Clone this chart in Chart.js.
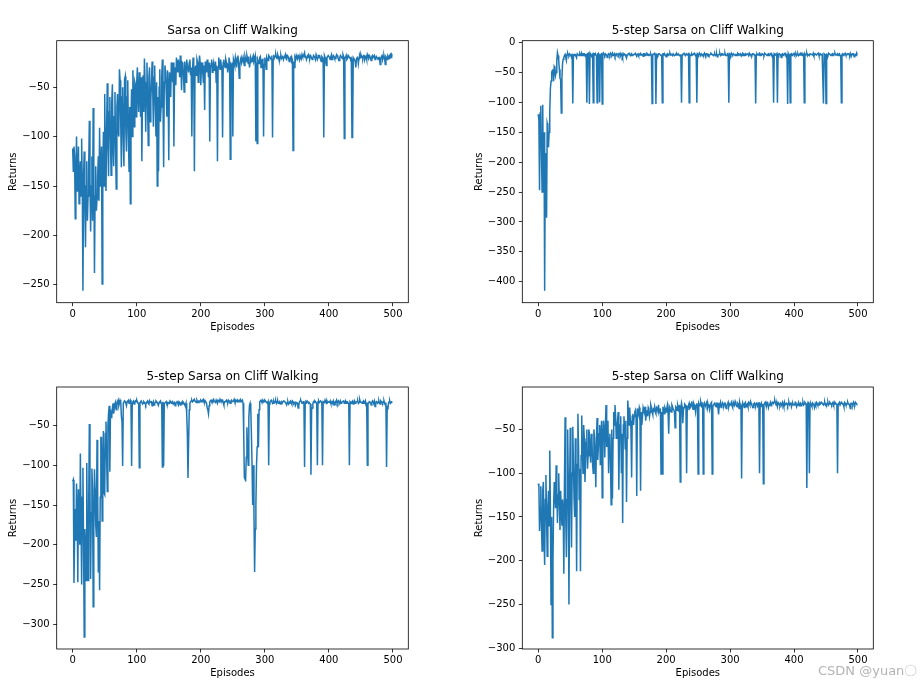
<!DOCTYPE html>
<html>
<head>
<meta charset="utf-8">
<script src="https://cdn.jsdelivr.net/npm/chart.js@4.4.0/dist/chart.umd.min.js"></script>
<style>
  body { margin: 0; background: #fff; width: 920px; height: 687px; position: relative; overflow: hidden; }
  canvas { position: absolute; }
  #mark { position: absolute; left: 818px; top: 662px; font: 13px "DejaVu Sans", sans-serif; color: #b4b4b4; white-space: nowrap; }
</style>
</head>
<body>
<canvas id="c1" width="420" height="320" style="left:0;top:20px"></canvas>
<canvas id="c2" width="420" height="320" style="left:470px;top:20px"></canvas>
<canvas id="c3" width="420" height="320" style="left:0;top:365px"></canvas>
<canvas id="c4" width="420" height="320" style="left:470px;top:365px"></canvas>
<div id="mark">CSDN @yuan〇</div>
<script>
// returns, one value per episode (50 per line)
const EPISODE_STEP = 1;

const sarsaReturns = [
  -112,-135,-110,-120,-183,-140,-100,-155,-137,-110,-168,-140,-125,-160,-102,-150,-256,-140,-115,-170,-212,-150,-125,-185,-160,-130,-84,-145,-196,-150,-120,-185,-71,-130,-238,-160,-130,-175,-163,-140,-120,-165,-91,-150,-140,-110,-249,-135,-95,-150,
  -57,-120,-155,-90,-46,-110,-140,-75,-60,-100,-139,-65,-47,-110,-130,-80,-55,-115,-153,-70,-57,-95,-100,-32,-43,-85,-131,-60,-50,-105,-130,-42,-39,-95,-115,-60,-43,-100,-135,-70,-168,-80,-52,-100,-33,-60,-90,-45,-48,-80,
  -45,-30,-60,-75,-35,-50,-80,-40,-125,-55,-38,-75,-21,-45,-95,-50,-25,-70,-109,-40,-30,-85,-64,-45,-24,-55,-90,-40,-28,-70,-100,-45,-150,-60,-135,-50,-32,-85,-70,-40,-22,-65,-131,-45,-28,-35,-55,-80,-33,-50,
  -124,-35,-40,-60,-25,-30,-45,-25,-110,-40,-30,-48,-20,-28,-35,-22,-28,-40,-18,-30,-53,-25,-26,-38,-55,-24,-32,-45,-22,-28,-30,-35,-25,-22,-38,-30,-100,-35,-20,-28,-135,-30,-28,-38,-22,-25,-45,-30,-18,-25,
  -48,-30,-25,-35,-45,-28,-73,-24,-30,-35,-22,-28,-40,-25,-105,-30,-28,-22,-35,-28,-25,-33,-30,-24,-45,-28,-125,-30,-20,-26,-32,-22,-28,-30,-101,-25,-22,-28,-30,-22,-25,-26,-35,-30,-20,-24,-123,-28,-30,-25,
  -100,-22,-25,-28,-20,-24,-30,-20,-18,-26,-41,-28,-22,-20,-25,-23,-20,-25,-28,-19,-22,-24,-18,-21,-26,-19,-30,-25,-20,-22,-24,-20,-18,-24,-22,-19,-105,-25,-107,-22,-24,-26,-20,-19,-30,-24,-22,-21,-100,-27,
  -20,-25,-32,-20,-22,-23,-18,-19,-20,-21,-22,-18,-101,-22,-19,-20,-18,-17,-20,-21,-17,-19,-22,-23,-19,-18,-21,-20,-18,-22,-20,-19,-17,-21,-22,-18,-19,-20,-24,-22,-20,-19,-26,-21,-114,-24,-30,-20,-22,-18,
  -20,-21,-18,-19,-22,-18,-20,-21,-17,-19,-19,-17,-15,-20,-18,-22,-20,-18,-17,-20,-21,-18,-19,-21,-22,-20,-18,-19,-20,-22,-17,-19,-22,-20,-18,-18,-20,-21,-24,-19,-20,-22,-101,-18,-20,-24,-28,-20,-19,-18,
  -18,-20,-22,-19,-17,-22,-20,-18,-19,-21,-21,-19,-17,-18,-20,-22,-23,-20,-18,-19,-20,-21,-17,-19,-102,-20,-20,-18,-22,-21,-18,-19,-20,-20,-22,-21,-101,-101,-20,-20,-22,-24,-30,-22,-20,-19,-26,-21,-18,-20,
  -17,-19,-20,-21,-18,-18,-22,-20,-19,-22,-17,-19,-21,-18,-19,-21,-23,-19,-18,-20,-20,-18,-22,-21,-19,-19,-21,-22,-20,-20,-27,-23,-19,-18,-22,-20,-18,-21,-27,-19,-20,-22,-18,-19,-21,-18,-17,-20,-17,-18
];

const nstepReturnsA = [
  -120,-130,-247,-118,-106,-180,-250,-104,-250,-150,-415,-200,-185,-293,-135,-140,-175,-150,-115,-77,-65,-50,-47,-45,-65,-40,-42,-55,-50,-30,-17,-22,-30,-45,-60,-62,-118,-60,-35,-28,-25,-22,-20,-25,-30,-20,-18,-21,-22,-19,
  -20,-22,-25,-19,-102,-21,-22,-20,-20,-23,-25,-19,-19,-21,-22,-18,-20,-22,-18,-20,-22,-19,-19,-21,-20,-20,-101,-19,-18,-22,-103,-18,-20,-21,-22,-20,-101,-19,-19,-21,-20,-22,-101,-19,-18,-20,-100,-21,-20,-19,
  -103,-21,-18,-20,-22,-19,-20,-22,-25,-21,-19,-20,-22,-18,-20,-21,-18,-22,-21,-19,-23,-20,-19,-21,-20,-19,-22,-20,-18,-22,-21,-19,-24,-21,-19,-20,-20,-23,-26,-21,-20,-19,-18,-20,-22,-21,-19,-22,-21,-20,
  -20,-19,-18,-21,-22,-20,-19,-22,-21,-19,-18,-21,-20,-20,-23,-19,-19,-22,-20,-21,-18,-19,-22,-20,-20,-21,-19,-22,-102,-20,-20,-19,-18,-21,-103,-20,-21,-22,-19,-19,-20,-21,-22,-20,-101,-19,-19,-21,-20,-22,
  -24,-20,-19,-22,-21,-19,-18,-21,-20,-20,-22,-19,-19,-22,-21,-20,-18,-21,-20,-19,-19,-22,-21,-20,-101,-21,-20,-19,-18,-20,-22,-22,-19,-21,-20,-19,-101,-20,-21,-22,-19,-21,-20,-19,-18,-20,-22,-21,-101,-19,
  -20,-21,-18,-20,-21,-19,-19,-22,-20,-21,-18,-20,-22,-19,-19,-21,-20,-22,-21,-20,-18,-19,-20,-21,-22,-20,-19,-22,-21,-19,-24,-21,-20,-20,-18,-22,-21,-19,-19,-21,-20,-20,-18,-22,-22,-21,-19,-20,-101,-19,
  -20,-22,-18,-20,-21,-19,-19,-21,-22,-20,-20,-22,-18,-19,-21,-20,-19,-21,-20,-22,-18,-19,-22,-20,-19,-21,-21,-19,-20,-22,-18,-20,-20,-21,-22,-19,-19,-20,-20,-22,-102,-20,-19,-21,-21,-19,-18,-22,-20,-21,
  -19,-20,-21,-22,-18,-19,-20,-21,-22,-20,-19,-22,-20,-19,-18,-21,-21,-20,-101,-19,-20,-21,-19,-22,-101,-20,-22,-19,-20,-21,-25,-20,-19,-22,-21,-19,-18,-21,-20,-20,-103,-19,-22,-21,-101,-20,-19,-22,-21,-19,
  -18,-21,-20,-19,-22,-20,-19,-22,-21,-19,-18,-21,-20,-22,-19,-20,-101,-19,-21,-20,-18,-22,-20,-21,-22,-19,-19,-20,-20,-21,-18,-22,-21,-19,-19,-21,-20,-20,-18,-22,-22,-19,-19,-21,-20,-20,-102,-19,-19,-21,
  -102,-20,-21,-22,-18,-19,-20,-21,-22,-20,-19,-22,-20,-19,-18,-21,-21,-20,-19,-22,-20,-19,-22,-21,-101,-20,-19,-22,-20,-19,-18,-21,-21,-20,-19,-19,-20,-22,-18,-21,-22,-20,-19,-19,-24,-21,-20,-22,-18,-20
];

const nstepReturnsB = [
  -120,-118,-248,-190,-155,-195,-123,-160,-247,-130,-160,-200,-85,-170,-250,-140,-103,-200,-316,-180,-195,-245,-97,-200,-245,-150,-48,-130,-243,-160,-104,-130,-278,-180,-105,-130,-175,-190,-68,-130,-234,-170,-257,-140,-65,-65,-170,-100,-57,-135,
  -137,-60,-45,-90,-133,-50,-35,-25,-108,-30,-40,-38,-28,-22,-35,-28,-22,-20,-30,-25,-20,-18,-25,-22,-18,-20,-38,-45,-101,-22,-22,-19,-20,-22,-25,-20,-19,-18,-22,-21,-18,-20,-101,-22,-20,-19,-23,-21,-19,-20,
  -18,-20,-22,-21,-103,-22,-20,-19,-19,-23,-22,-20,-21,-22,-24,-21,-20,-19,-22,-23,-19,-21,-21,-20,-25,-22,-20,-24,-22,-21,-19,-20,-21,-23,-24,-21,-20,-19,-22,-21,-102,-20,-101,-22,-22,-21,-20,-23,-24,-21,
  -21,-22,-19,-20,-22,-21,-20,-23,-23,-21,-25,-22,-21,-20,-22,-24,-20,-21,-24,-22,-21,-23,-20,-21,-22,-24,-25,-22,-35,-60,-116,-70,-30,-22,-20,-19,-18,-20,-19,-18,-17,-19,-20,-21,-18,-20,-21,-19,-19,-20,
  -18,-19,-20,-18,-17,-20,-21,-19,-19,-22,-28,-30,-35,-25,-20,-19,-18,-20,-21,-18,-17,-19,-20,-21,-18,-20,-22,-18,-19,-20,-17,-19,-20,-18,-18,-21,-24,-20,-20,-19,-18,-20,-21,-18,-19,-21,-22,-19,-18,-20,
  -20,-19,-17,-20,-21,-18,-19,-20,-18,-19,-20,-18,-17,-20,-19,-18,-22,-60,-115,-117,-118,-90,-52,-80,-100,-40,-25,-22,-28,-60,-100,-150,-100,-160,-234,-180,-150,-100,-77,-35,-77,-30,-20,-19,-18,-20,-21,-18,-19,-20,
  -18,-19,-20,-21,-22,-20,-100,-23,-20,-19,-18,-20,-21,-22,-19,-21,-20,-19,-22,-20,-19,-22,-21,-20,-23,-21,-20,-22,-22,-19,-19,-20,-21,-22,-24,-21,-20,-23,-22,-20,-19,-21,-23,-19,-20,-22,-21,-20,-24,-21,
  -21,-22,-28,-24,-20,-19,-18,-20,-22,-21,-20,-19,-102,-22,-20,-21,-19,-20,-22,-21,-21,-23,-112,-30,-28,-22,-20,-21,-19,-20,-21,-22,-100,-20,-19,-21,-21,-19,-20,-22,-100,-20,-20,-21,-18,-20,-22,-19,-21,-20,
  -20,-21,-19,-22,-22,-20,-21,-19,-24,-21,-20,-22,-18,-20,-22,-19,-20,-21,-19,-22,-21,-20,-20,-19,-22,-21,-19,-22,-20,-20,-22,-21,-100,-20,-21,-22,-20,-19,-23,-21,-19,-22,-21,-20,-20,-19,-22,-21,-17,-20,
  -20,-21,-22,-20,-19,-22,-21,-19,-25,-21,-100,-22,-22,-20,-20,-21,-24,-22,-19,-20,-21,-19,-26,-22,-20,-21,-22,-20,-19,-22,-23,-19,-20,-21,-22,-20,-19,-22,-24,-21,-102,-25,-30,-22,-20,-19,-22,-21,-20,-20
];

const nstepReturnsC = [
  -112,-115,-166,-140,-115,-160,-189,-120,-110,-170,-205,-130,-102,-150,-195,-140,-120,-160,-74,-140,-250,-150,-288,-200,-140,-110,-125,-140,-91,-120,-157,-125,-100,-135,-165,-120,-140,-160,-130,-145,-215,-110,-36,-150,-196,-130,-50,-110,-250,-120,
  -48,-120,-185,-100,-47,-90,-130,-150,-60,-110,-212,-90,-32,-70,-130,-95,-212,-80,-34,-75,-100,-45,-60,-110,-85,-65,-50,-95,-80,-50,-55,-75,-88,-55,-62,-90,-100,-50,-60,-80,-116,-60,-37,-85,-70,-55,-45,-90,-60,-40,
  -128,-60,-40,-50,-82,-45,-22,-70,-66,-40,-100,-60,-55,-90,-136,-50,-129,-60,-30,-45,-22,-35,-60,-50,-40,-30,-119,-60,-45,-35,-100,-55,-157,-45,-35,-50,-72,-40,-133,-60,-17,-30,-45,-25,-40,-50,-105,-35,-32,-45,
  -35,-30,-28,-38,-126,-26,-30,-33,-25,-28,-120,-30,-45,-35,-25,-28,-30,-24,-40,-32,-28,-35,-25,-27,-35,-30,-22,-25,-30,-33,-27,-28,-24,-30,-32,-25,-26,-29,-22,-31,-30,-26,-101,-30,-101,-24,-28,-32,-25,-27,
  -30,-26,-22,-30,-55,-24,-26,-29,-30,-22,-24,-27,-28,-30,-48,-24,-25,-28,-22,-25,-30,-22,-110,-26,-20,-24,-43,-28,-25,-21,-22,-26,-100,-23,-28,-22,-20,-26,-25,-21,-18,-24,-27,-20,-22,-25,-30,-22,-20,-24,
  -101,-20,-22,-23,-18,-21,-25,-19,-101,-24,-20,-22,-24,-20,-18,-25,-22,-21,-27,-23,-20,-19,-101,-24,-22,-21,-19,-23,-24,-20,-20,-25,-33,-21,-22,-19,-25,-23,-20,-22,-23,-20,-19,-24,-26,-22,-21,-19,-24,-21,
  -22,-21,-19,-23,-25,-19,-21,-22,-18,-20,-23,-24,-20,-21,-26,-19,-22,-23,-106,-21,-20,-22,-25,-20,-19,-24,-22,-21,-24,-19,-20,-22,-18,-20,-22,-24,-25,-21,-20,-22,-23,-20,-19,-23,-21,-19,-100,-21,-22,-20,
  -24,-21,-112,-22,-20,-19,-22,-23,-19,-20,-25,-22,-21,-19,-23,-21,-19,-20,-20,-18,-17,-20,-22,-21,-24,-19,-20,-22,-23,-20,-21,-23,-19,-21,-24,-19,-22,-22,-20,-21,-23,-20,-19,-22,-21,-19,-24,-21,-20,-22,
  -22,-21,-19,-20,-24,-22,-21,-19,-23,-21,-20,-23,-22,-20,-19,-22,-21,-19,-20,-21,-117,-22,-19,-20,-100,-21,-20,-22,-24,-20,-21,-22,-25,-21,-23,-19,-20,-22,-22,-20,-19,-21,-21,-19,-20,-21,-22,-20,-19,-22,
  -21,-22,-20,-19,-22,-21,-19,-20,-21,-22,-20,-19,-22,-21,-19,-20,-21,-22,-100,-21,-20,-19,-22,-22,-19,-20,-21,-21,-24,-19,-20,-22,-22,-20,-19,-21,-21,-23,-26,-20,-20,-21,-22,-19,-21,-22,-19,-20,-21,-21
];

const xTicks = [0, 100, 200, 300, 400, 500];
const yTicksSarsa = [-250, -200, -150, -100, -50];
const yTicksA = [-400, -350, -300, -250, -200, -150, -100, -50, 0];
const yTicksB = [-300, -250, -200, -150, -100, -50];
const yTicksC = [-300, -250, -200, -150, -100, -50];

const FONT = '"DejaVu Sans", sans-serif';

// matplotlib style box around the axes
const spines = {
  id: 'spines',
  afterDatasetsDraw(chart) {
    const { ctx, chartArea: a } = chart;
    ctx.save();
    ctx.strokeStyle = '#000';
    ctx.lineWidth = 0.8;
    ctx.strokeRect(a.left, a.top, a.right - a.left, a.bottom - a.top);
    ctx.restore();
  }
};

const minus = v => String(v).replace('-', '\u2212');

function drawPanel(id, title, returns, yTicks, yMin, yMax, box) {
  const points = returns.map((v, i) => ({ x: i * EPISODE_STEP, y: v }));
  new Chart(document.getElementById(id), {
    type: 'line',
    data: {
      datasets: [{
        data: points,
        borderColor: '#1f77b4',
        borderWidth: 1.5,
        pointRadius: 0,
        tension: 0,
        fill: false
      }]
    },
    options: {
      responsive: false,
      animation: false,
      events: [],
      layout: { padding: { left: 0, top: 0, right: box.padRight, bottom: 0 } },
      plugins: {
        legend: { display: false },
        tooltip: { enabled: false },
        title: {
          display: true,
          text: title,
          fullSize: false,
          color: '#000',
          font: { family: FONT, size: 12, weight: 'normal' },
          padding: { top: box.titleTop, bottom: box.titleBottom }
        }
      },
      scales: {
        x: {
          type: 'linear',
          bounds: 'data',
          min: -24.95,
          max: 523.95,
          afterBuildTicks: s => { s.ticks = xTicks.map(v => ({ value: v })); },
          afterFit: s => { s.height = box.xHeight; },
          grid: { drawOnChartArea: false, drawTicks: true, tickLength: 3.5, color: '#000', lineWidth: 0.8 },
          border: { display: false },
          ticks: { color: '#000', font: { family: FONT, size: 10 }, padding: 2, maxRotation: 0, autoSkip: false, callback: minus },
          title: { display: true, text: 'Episodes', color: '#000', font: { family: FONT, size: 10 }, padding: { top: 0, bottom: box.xLabelPad } }
        },
        y: {
          type: 'linear',
          bounds: 'data',
          min: yMin,
          max: yMax,
          afterBuildTicks: s => { s.ticks = yTicks.map(v => ({ value: v })); },
          afterFit: s => { s.width = box.yWidth; },
          grid: { drawOnChartArea: false, drawTicks: true, tickLength: 3.5, color: '#000', lineWidth: 0.8 },
          border: { display: false },
          ticks: { color: '#000', font: { family: FONT, size: 10 }, padding: 3.5, autoSkip: false, callback: minus },
          title: { display: true, text: 'Returns', color: '#000', font: { family: FONT, size: 10 }, padding: { top: box.yLabelPad, bottom: 0 } }
        }
      }
    },
    plugins: [spines]
  });
}

const topLeft = { yWidth: 56.7, xHeight: 37.3, padRight: 11.7, titleTop: 3.8, titleBottom: 2.5, xLabelPad: 7, yLabelPad: 7.5 };
const topRight = { yWidth: 52.3, xHeight: 37.3, padRight: 16.7, titleTop: 3.8, titleBottom: 2.5, xLabelPad: 7, yLabelPad: 3.3 };
const bottomLeft = { yWidth: 56.7, xHeight: 36, padRight: 11.7, titleTop: 5.1, titleBottom: 2.5, xLabelPad: 5.7, yLabelPad: 7.5 };
const bottomRight = { yWidth: 52.3, xHeight: 36, padRight: 16.7, titleTop: 5.1, titleBottom: 2.5, xLabelPad: 5.7, yLabelPad: 3.3 };

drawPanel('c1', 'Sarsa on Cliff Walking', sarsaReturns, yTicksSarsa, -268, -3, topLeft);
drawPanel('c2', '5-step Sarsa on Cliff Walking', nstepReturnsA, yTicksA, -435, 2.9, topRight);
drawPanel('c3', '5-step Sarsa on Cliff Walking', nstepReturnsB, yTicksB, -331, -1.5, bottomLeft);
drawPanel('c4', '5-step Sarsa on Cliff Walking', nstepReturnsC, yTicksC, -301, -1.5, bottomRight);
</script>
</body>
</html>
